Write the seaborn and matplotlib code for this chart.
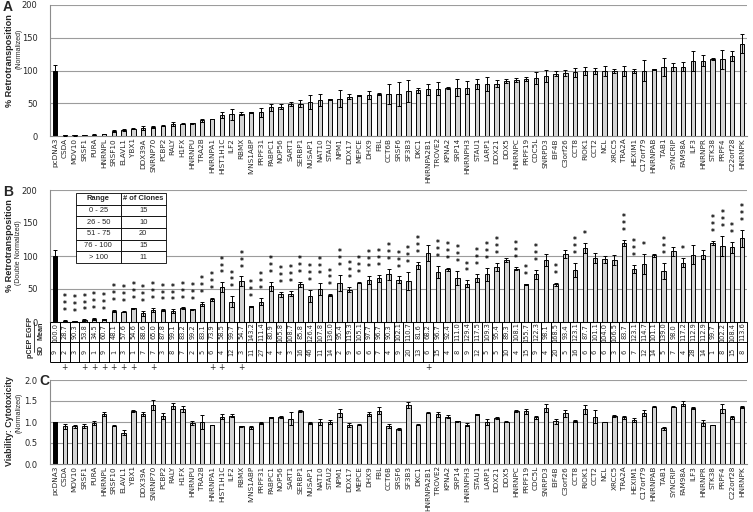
import numpy as np
import pandas as pd
import matplotlib
matplotlib.use("Agg")
import matplotlib.pyplot as plt
import seaborn as sns
from matplotlib.lines import Line2D

# Gene order (same order in all three panels)
genes = ["pcDNA3", "CSDA", "MOV10", "SRSF1", "PURA", "HNRNPL", "SRSF10", "ELAVL1", "YBX1",
         "DDX39A", "SNRNP70", "PCBP2", "RALY", "H1FX", "HNRNPU", "TRA2B", "HNRNPA1",
         "HIST1H1C", "ILF2", "RBMX", "IVNS1ABP", "PRPF31", "PABPC1", "NOP56", "SART1",
         "SERBP1", "NUSAP1", "NAT10", "STAU2", "NPM1", "DDX17", "MEPCE", "DHX9", "FBL",
         "CCT6B", "SRSF6", "SF3B3", "DKC1", "HNRNPA2B1", "TROVE2", "KPNA2", "SRP14",
         "HNRNPH3", "STAU1", "LARP1", "DDX21", "DDX5", "HNRNPC", "PRPF19", "CDC5L",
         "SNRPD3", "EIF4B", "C3orf26", "CCT8", "RIOK1", "CCT2", "NCL", "XRCC5", "TRA2A",
         "HEXIM1", "C17orf79", "HNRNPAB", "TAB1", "SYNCRIP", "FAM98A", "ILF3", "HNRNPR",
         "STK38", "PRPF4", "C22orf28", "HNRNPK"]

# Panel A: % retrotransposition (normalized)
retro_a = [100, 0.8, 0.8, 1.5, 2, 3, 8, 9, 11, 12, 14, 16, 18, 19, 19.5, 24, 26, 32, 33, 34,
           36, 36, 44, 45, 49, 49.5, 52, 54.5, 56, 57, 60, 62, 62, 64, 64, 64, 69, 70, 71, 72,
           73.5, 73.5, 74, 79, 79, 80, 84, 86, 87, 88, 92, 95, 96, 97, 99, 99, 99, 99, 99, 99,
           100, 102, 105, 105, 106, 115, 115, 117, 117, 122, 141]
retro_a_err = [9, 0.5, 0.5, 0.5, 0.5, 0.5, 1.5, 1, 1, 3, 1.5, 1, 3, 0.5, 0.5, 2.5, 0.5, 5, 8, 2,
               1, 7, 5.5, 4, 3.5, 5, 11, 9, 0.5, 13, 4, 1, 6, 2, 15, 18, 17, 4, 8, 10,
               2, 13, 10, 8, 11, 5, 3, 3, 2.5, 9, 9, 3.5, 5, 6.5, 6.5, 4.5, 8, 3.5, 7.5, 3,
               16, 1, 14, 6, 7.5, 15, 8, 1.5, 14, 8, 15]

# Panel B: % retrotransposition (double normalized)
retro_b = [100, 2, 1, 3, 5, 4, 17, 15.5, 20.5, 13, 18, 18, 16, 21, 19, 28, 34.5, 53, 31, 62,
           24, 31, 54, 42, 43, 57, 40, 50, 41, 59, 49, 59.5, 64, 66, 72, 64, 62, 86, 105, 76,
           80, 67, 58, 67, 72, 84, 94, 81, 57, 72, 94, 57, 103, 79, 112, 97, 95, 94, 120, 81,
           88, 101, 77, 107, 90, 102, 102, 120, 115, 113, 127]
retro_b_err = [9, 1, 0.5, 1, 1.5, 1, 1.5, 1, 1, 4, 3, 1, 3, 1, 1, 3, 2, 7, 8, 7,
               1, 5, 7, 4, 4, 4, 9, 9, 1, 12, 4, 1, 6, 5, 8, 5, 14, 5, 12, 9,
               2, 11, 5, 6, 10, 6, 3, 2, 1, 7, 9, 2, 6, 11, 8, 7, 5, 7, 5, 6,
               15, 2, 12, 7, 7, 14, 7, 3, 15, 8, 13]
star_counts = [0, 3, 3, 3, 3, 3, 3, 3, 3, 3, 3, 3, 3, 3, 3, 3, 3, 3, 3, 3,
               3, 3, 3, 3, 3, 3, 3, 3, 3, 3, 3, 3, 3, 3, 3, 3, 3, 3, 0, 3,
               3, 3, 2, 3, 3, 3, 0, 3, 2, 3, 0, 2, 0, 3, 1, 0, 0, 0, 3, 3,
               1, 0, 3, 0, 1, 0, 0, 3, 3, 2, 3]

# pCEP EGFP control table under panel B
egfp_mean = [100.0, 28.7, 90.3, 53.8, 34.5, 60.7, 48.1, 57.6, 54.6, 88.6, 65.0, 87.8, 99.1,
             83.2, 99.2, 83.1, 73.9, 58.5, 99.7, 54.7, 143.2, 111.4, 80.9, 105.8, 108.7, 85.8,
             126.4, 107.8, 136.0, 95.4, 119.3, 105.1, 97.7, 96.7, 90.3, 102.1, 110.7, 81.6,
             68.2, 96.7, 92.4, 111.0, 129.4, 117.5, 109.3, 95.4, 89.3, 108.1, 155.7, 122.3,
             98.1, 168.5, 93.4, 123.1, 87.7, 101.1, 104.0, 106.5, 83.7, 123.1, 114.7, 101.1,
             139.0, 98.0, 117.2, 112.9, 112.9, 99.7, 102.2, 108.4, 113.6]
egfp_sd = [9, 2, 3, 9, 1, 9, 1, 3, 1, 7, 7, 3, 8, 7, 2, 5, 6, 4, 12, 3, 11, 27, 4, 4, 3, 16,
           46, 11, 14, 2, 9, 6, 6, 7, 4, 9, 20, 13, 6, 15, 4, 8, 9, 12, 5, 5, 10, 4, 15, 9,
           4, 20, 5, 16, 6, 6, 6, 3, 6, 7, 12, 14, 5, 7, 4, 28, 14, 1, 8, 15, 8]
plus_genes = ["CSDA", "SRSF1", "PURA", "HNRNPL", "SRSF10", "ELAVL1", "YBX1", "SNRNP70",
              "HNRNPA1", "HIST1H1C", "RBMX", "HNRNPA2B1"]

# Inset table in panel B
range_rows = ["0 - 25", "26 - 50", "51 - 75", "76 - 100", "> 100"]
range_counts = [15, 10, 20, 15, 11]

# Panel C: viability / cytotoxicity (normalized)
viab_c = [1.0, 0.90, 0.90, 0.90, 0.98, 1.19, 0.91, 0.75, 1.26, 1.19, 1.40, 1.14, 1.38, 1.31,
          0.98, 1.00, 0.93, 1.13, 1.15, 0.90, 0.87, 0.98, 1.11, 1.12, 1.08, 1.26, 0.98, 1.00,
          1.00, 1.22, 0.93, 0.94, 1.19, 1.27, 0.90, 0.83, 1.40, 0.94, 1.22, 1.18, 1.13, 1.02,
          0.94, 1.18, 1.00, 1.09, 1.01, 1.26, 1.26, 1.11, 1.34, 1.02, 1.21, 1.02, 1.30, 1.13,
          1.00, 1.14, 1.11, 1.05, 1.22, 1.36, 0.85, 1.36, 1.44, 1.34, 0.97, 0.93, 1.32, 1.11,
          1.35]
viab_c_err = [0, 0.06, 0.04, 0.05, 0.04, 0.05, 0.01, 0.05, 0.03, 0.05, 0.12, 0.08, 0.07, 0.06,
              0.04, 0.17, 0.01, 0.07, 0.03, 0.01, 0.03, 0.02, 0.02, 0.03, 0.15, 0.02, 0.03,
              0.06, 0.04, 0.09, 0.04, 0.02, 0.04, 0.09, 0.05, 0.03, 0.07, 0.02, 0.01, 0.06,
              0.03, 0.01, 0.04, 0.02, 0.06, 0.03, 0.01, 0.03, 0.06, 0.04, 0.09, 0.06, 0.08,
              0.02, 0.1, 0.15, 0.01, 0.02, 0.03, 0.04, 0.07, 0.01, 0.03, 0.01, 0.06, 0.02,
              0.07, 0.01, 0.1, 0.03, 0.02]

W, H = 753, 512
BAR_FILL = "#d3d3d3"
GRID = "#9c9c9c"
TEXT = "#262626"
TITLE_FONT = ["Liberation Sans", "DejaVu Sans"]


def fx(px):
    return px / W


def fy(px):
    return 1 - px / H


def axes_box(top, bottom, left=50, right=747):
    return [fx(left), fy(bottom), (right - left) / W, (bottom - top) / H]


def draw_panel(ax, values, errs, yticks, grid_lines, show_labels=True):
    df = pd.DataFrame({"gene": genes, "value": values})
    palette = {g: (BAR_FILL if g != "pcDNA3" else "black") for g in genes}
    sns.barplot(data=df, x="gene", y="value", hue="gene", palette=palette, legend=False,
                errorbar=None, width=0.45, edgecolor="black", linewidth=0.7, saturation=1,
                ax=ax, zorder=2)
    ax.errorbar(np.arange(len(genes)), values, yerr=errs, fmt="none", ecolor="black",
                elinewidth=0.7, capsize=1.6, capthick=0.7, zorder=3)
    for g in grid_lines:
        ax.axhline(g, color=GRID, lw=0.8, zorder=0.5)
    ax.set_xlim(-0.5, len(genes) - 0.5)
    ax.set_ylim(yticks[0], yticks[-1])
    ax.set_yticks(yticks)
    ax.set_xlabel("")
    ax.set_ylabel("")
    for s in ["top", "right"]:
        ax.spines[s].set_visible(False)
    for s in ["left", "bottom"]:
        ax.spines[s].set_color("#8c8c8c")
        ax.spines[s].set_linewidth(0.8)
    ax.tick_params(axis="y", length=0, pad=9, labelsize=6, labelcolor=TEXT)
    ax.tick_params(axis="x", length=0, pad=1.5, labelsize=5.2, labelcolor=TEXT)
    if show_labels:
        ax.set_xticks(range(len(genes)))
        ax.set_xticklabels(genes, rotation=90)
    else:
        ax.set_xticklabels([])


def side_title(y_main, y_sub, main, sub, size):
    fig.text(fx(10), fy(y_main), main, rotation=90, ha="center", va="center",
             fontsize=size, fontweight="bold", color=TEXT, family=TITLE_FONT)
    fig.text(fx(19), fy(y_sub), sub, rotation=90, ha="center", va="center",
             fontsize=5, color=TEXT, family=TITLE_FONT)


sns.set_style("white")
plt.rcParams["font.family"] = ["DejaVu Sans"]

fig = plt.figure(figsize=(W / 100, H / 100), dpi=100)

# ---- Panel A
ax_a = fig.add_axes(axes_box(5, 136))
draw_panel(ax_a, retro_a, retro_a_err, [0, 50, 100, 150, 200], [50, 100, 150, 200])

# ---- Panel B
ax_b = fig.add_axes(axes_box(190, 322))
draw_panel(ax_b, retro_b, retro_b_err, [0, 50, 100, 150, 200], [50, 100, 200], show_labels=False)
for i, (v, e, n) in enumerate(zip(retro_b, retro_b_err, star_counts)):
    if n:
        ax_b.text(i, v + e + 6, "\n".join("*" * n), ha="center", va="bottom",
                  fontsize=5.5, fontweight="bold", linespacing=0.7, color="black", zorder=4)

tbl = ax_b.table(cellText=[[r, str(c)] for r, c in zip(range_rows, range_counts)],
                 colLabels=["Range", "# of Clones"], cellLoc="center",
                 bbox=[0.037, 0.447, 0.129, 0.53])
tbl.auto_set_font_size(False)
tbl.set_fontsize(5.4)
tbl.set_zorder(5)
for (r, c), cell in tbl.get_celld().items():
    cell.set_linewidth(0.6)
    cell.get_text().set_family(TITLE_FONT)
    if r == 0:
        cell.set_text_props(weight="bold")

# pCEP EGFP mean / SD table
ax_t = fig.add_axes(axes_box(322, 362))
ax_t.set_xlim(-0.5, len(genes) - 0.5)
ax_t.set_ylim(0, 2)
ax_t.axis("off")
ax_t.hlines([0, 1, 2], -0.5, len(genes) - 0.5, color="black", lw=0.7, clip_on=False)
ax_t.vlines(np.arange(len(genes) + 1) - 0.5, 0, 2, color="black", lw=0.7, clip_on=False)
for i, (m, sd) in enumerate(zip(egfp_mean, egfp_sd)):
    ax_t.text(i, 1.5, f"{m:.1f}", rotation=90, ha="center", va="center", fontsize=4.8,
              color=TEXT)
    ax_t.text(i, 0.5, str(sd), rotation=90, ha="center", va="center", fontsize=4.8,
              color=TEXT)
for g in plus_genes:
    ax_t.text(genes.index(g), -0.28, "+", ha="center", va="center", fontsize=5.5,
              color=TEXT, clip_on=False)

fig.text(fx(30), fy(337), "pCEP EGFP", rotation=90, ha="center", va="center",
         fontsize=5.2, fontweight="bold", color=TEXT, family=TITLE_FONT)
fig.add_artist(Line2D([fx(34), fx(34)], [fy(322), fy(352)], color=TEXT, lw=0.6))
fig.text(fx(41), fy(331), "Mean", rotation=90, ha="center", va="center",
         fontsize=5.2, fontweight="bold", color=TEXT, family=TITLE_FONT)
fig.text(fx(41), fy(350), "SD", rotation=90, ha="center", va="center",
         fontsize=5.2, fontweight="bold", color=TEXT, family=TITLE_FONT)

# ---- Panel C
ax_c = fig.add_axes(axes_box(380, 464))
draw_panel(ax_c, viab_c, viab_c_err, [0.0, 0.5, 1.0, 1.5, 2.0], [0.5, 1.0, 1.5, 2.0])
ax_c.set_yticklabels([f"{t:.1f}" for t in [0.0, 0.5, 1.0, 1.5, 2.0]])

# ---- Axis titles and panel letters
side_title(61, 49, "% Retrotransposition", "(Normalized)", 6.6)
side_title(246, 253, "% Retrotransposition", "(Double Normalized)", 6.6)
side_title(421, 413, "Viability: Cytotoxicity", "(Normalized)", 6.3)

fig.text(fx(3), fy(0), "A", ha="left", va="top", fontsize=10, fontweight="bold",
         family=TITLE_FONT)
fig.text(fx(3), fy(185), "B", ha="left", va="top", fontsize=10, fontweight="bold",
         family=TITLE_FONT)
fig.text(fx(39), fy(374), "C", ha="left", va="top", fontsize=10, fontweight="bold",
         family=TITLE_FONT)

fig.savefig("out.png", dpi=100)
